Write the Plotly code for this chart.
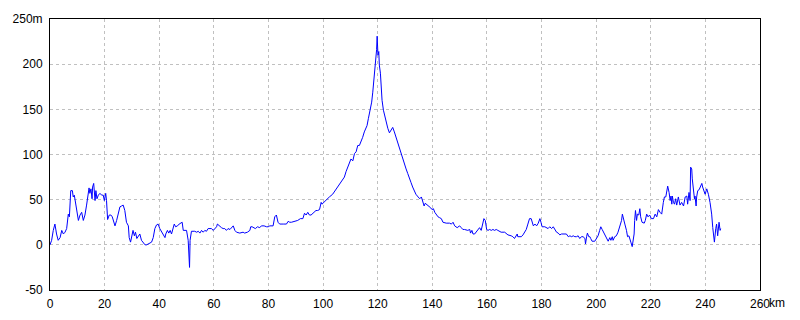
import plotly.graph_objects as go

dist_km = [
    0.0, 0.6, 1.2, 1.8, 2.4, 3.0, 3.7, 4.3, 4.9, 5.5, 6.1, 6.7, 7.1, 7.6, 8.2, 8.5, 8.9, 9.4,
    10.0, 10.4, 11.0, 11.6, 12.2, 12.8, 13.4, 13.8, 14.3, 14.6, 15.0, 15.4, 15.6, 16.0, 16.5,
    16.8, 17.2, 17.7, 18.3, 18.9, 19.5, 19.9, 20.4, 20.7, 21.1, 21.7, 22.3, 22.8, 23.4, 23.8,
    24.4, 25.0, 25.6, 26.2, 26.8, 27.4, 28.0, 28.7, 29.0, 29.5, 29.9, 30.4, 30.9, 31.3, 31.8,
    32.3, 32.9, 33.5, 34.1, 34.8, 35.4, 36.0, 36.6, 37.2, 37.8, 38.4, 39.0, 39.6, 40.2, 40.9,
    41.5, 42.1, 42.4, 43.0, 43.5, 44.0, 44.5, 45.1, 45.5, 46.0, 46.7, 47.3, 47.9, 48.4, 48.8,
    50.0, 50.6, 50.9, 51.1, 51.3, 51.8, 53.0, 53.7, 54.3, 54.9, 55.5, 56.1, 56.7, 57.3, 57.9,
    58.5, 59.1, 59.8, 60.4, 61.0, 61.3, 62.2, 62.8, 63.4, 64.0, 64.6, 65.2, 65.9, 66.5, 67.1,
    67.7, 68.3, 69.5, 70.7, 71.3, 72.3, 73.2, 73.5, 74.0, 74.8, 75.2, 76.0, 76.8, 77.4, 78.4,
    79.3, 79.9, 80.5, 81.7, 82.3, 82.9, 83.5, 84.1, 85.4, 86.6, 87.2, 87.8, 88.4, 89.8, 90.7,
    91.7, 92.6, 93.2, 93.8, 94.4, 95.0, 95.6, 96.2, 96.8, 97.4, 98.0, 98.7, 99.0, 99.3, 99.6,
    100.2, 101.1, 102.3, 103.5, 104.8, 105.4, 106.0, 106.6, 107.2, 107.8, 108.4, 109.0, 109.6,
    110.2, 110.9, 111.5, 112.1, 112.7, 113.3, 113.9, 114.5, 115.1, 115.7, 116.1, 116.6, 117.0,
    117.3, 117.8, 118.2, 118.5, 119.0, 119.4, 119.6, 119.8, 120.0, 120.1, 120.4, 120.6, 121.0,
    121.2, 121.6, 122.1, 122.4, 122.8, 123.3, 123.7, 124.3, 124.9, 125.5, 126.1, 126.7, 127.3,
    127.9, 128.5, 129.1, 129.8, 130.4, 131.0, 131.6, 132.2, 132.8, 133.3, 134.0, 134.8, 135.4,
    136.0, 136.5, 137.0, 137.4, 138.2, 138.8, 139.4, 139.9, 140.4, 140.9, 141.5, 142.1, 142.7,
    143.3, 143.9, 145.1, 146.3, 147.0, 147.6, 148.2, 149.1, 150.0, 150.6, 151.2, 151.8, 153.0,
    153.7, 154.0, 154.5, 154.9, 155.5, 156.1, 156.7, 157.3, 157.9, 158.5, 158.9, 159.4, 159.9,
    160.4, 161.0, 161.6, 162.2, 162.8, 163.4, 164.0, 165.2, 166.5, 167.1, 167.7, 168.9, 169.5,
    170.1, 170.7, 171.1, 171.3, 172.6, 173.2, 173.8, 174.4, 175.0, 175.6, 176.2, 176.7, 177.0,
    177.6, 178.2, 178.8, 179.4, 179.8, 180.2, 181.2, 181.8, 182.4, 183.0, 183.7, 184.3, 184.9,
    185.5, 186.1, 186.7, 187.3, 188.5, 189.1, 189.8, 190.4, 191.0, 191.6, 192.2, 192.8, 193.4,
    194.0, 194.6, 195.2, 195.9, 196.1, 196.5, 196.8, 197.3, 197.7, 198.0, 198.5, 199.5, 200.1,
    200.7, 201.3, 201.7, 202.2, 202.7, 203.2, 203.8, 204.4, 205.0, 205.4, 205.9, 206.2, 206.8,
    207.4, 208.0, 208.7, 209.3, 209.6, 210.1, 210.5, 211.1, 211.5, 212.0, 212.3, 212.7, 213.2,
    213.5, 213.9, 214.1, 214.4, 214.8, 215.1, 215.6, 216.0, 216.3, 216.8, 217.6, 218.0, 218.5,
    219.0, 219.6, 220.2, 221.0, 221.6, 222.2, 222.8, 223.4, 224.0, 224.6, 225.0, 225.5, 225.9,
    226.2, 226.7, 227.1, 227.4, 227.7, 227.9, 228.3, 228.7, 229.1, 229.5, 230.1, 230.7, 231.3,
    232.0, 232.6, 233.2, 233.5, 234.0, 234.4, 234.6, 235.0, 235.2, 235.6, 236.0, 236.2, 236.6,
    236.8, 237.2, 237.7, 238.2, 238.7, 239.0, 239.4, 239.9, 240.5, 241.1, 241.7, 242.3, 242.7,
    243.0, 243.3, 243.8, 244.1, 244.5, 245.0, 245.4, 245.6,
]

elev_m = [
    0, 5, 16, 23, 12, 5, 8, 16, 12, 14, 18, 34, 31, 60, 60, 53, 55, 44,
    34, 27, 33, 36, 27, 33, 44, 55, 63, 57, 62, 51, 64, 68, 49,
    60, 51, 55, 57, 55, 55, 49, 57, 49, 28, 33, 33, 31, 23, 21,
    27, 34, 42, 43, 44, 38, 25, 21, 8, 3, 10, 16, 10, 14, 7,
    10, 12, 5, 3, 0, 0, 1, 2, 3, 8, 18, 22, 23, 18, 14,
    11, 8, 12, 16, 13, 16, 12, 18, 23, 20, 21, 23, 24, 25, 16,
    16, 5, -17, -25, 5, 15, 15, 14, 15, 13, 16, 14, 16, 15, 18,
    18, 18, 16, 18, 20, 23, 20, 19, 18, 18, 16, 18, 17, 19, 21,
    16, 14, 13, 14, 13, 14, 16, 20, 20, 19, 18, 20, 19, 21, 21,
    20, 20, 21, 21, 31, 33, 25, 23, 23, 23, 26, 25, 25, 26, 27,
    29, 29, 35, 33, 36, 33, 33, 35, 36, 38, 38, 39, 43, 47, 45,
    47, 50, 53, 56, 62, 64, 67, 69, 73, 75, 81, 85, 90,
    95, 93, 101, 103, 110, 110, 114, 119, 125, 130, 132, 140, 145,
    152, 158, 169, 179, 188, 201, 216, 231, 223, 210, 214, 199, 190,
    177, 160, 149, 145, 140, 134, 129, 124, 127, 130, 125, 119, 114,
    108, 103, 95, 90, 84, 79, 75, 69, 64, 60, 56, 53, 51,
    53, 49, 43, 46, 44, 43, 41, 39, 40, 36, 33, 31, 30,
    29, 25, 24, 24, 23, 25, 21, 19, 21, 19, 17, 17, 16,
    17, 13, 16, 12, 12, 14, 17, 19, 16, 23, 29, 27, 17,
    16, 17, 16, 17, 16, 17, 16, 14, 14, 12, 11, 10, 9,
    7, 10, 12, 9, 9, 11, 14, 17, 23, 29, 29, 23, 21,
    23, 21, 24, 29, 25, 20, 20, 19, 18, 20, 18, 20, 16,
    14, 13, 11, 12, 12, 12, 9, 10, 9, 10, 9, 9, 10,
    7, 9, 9, 7, 1, 9, 13, 9, 9, 7, 4, 4, 7,
    10, 16, 20, 17, 14, 11, 9, 4, 8, 5, 9, 5, 9,
    10, 14, 21, 27, 34, 29, 23, 16, 9, 10, 6, 3, -2,
    3, 12, 27, 38, 27, 34, 33, 40, 31, 25, 24, 27, 34,
    31, 33, 29, 29, 34, 31, 39, 36, 34, 47, 53, 53, 60,
    65, 58, 49, 54, 45, 54, 47, 45, 51, 44, 53, 44, 47,
    43, 53, 54, 45, 58, 49, 86, 84, 73, 60, 51, 54, 43,
    53, 60, 61, 64, 68, 64, 60, 56, 62, 56, 47, 34, 19,
    10, 3, 18, 23, 10, 25, 16, 18,
]

x_tickvals = [0, 20, 40, 60, 80, 100, 120, 140, 160, 180, 200, 220, 240, 260]
x_ticktext = ["0", "20", "40", "60", "80", "100", "120", "140", "160", "180", "200", "220", "240", "260"]
y_tickvals = [-50, 0, 50, 100, 150, 200, 250]
y_ticktext = ["-50", "0", "50", "100", "150", "200", "250m"]

FONT = "Liberation Sans Narrow, Liberation Sans, Arial, sans-serif"

fig = go.Figure()
fig.add_trace(go.Scatter(
    x=dist_km, y=elev_m, mode="lines",
    line=dict(color="#0000ff", width=1),
    hoverinfo="skip", showlegend=False,
))

axis_common = dict(
    showline=True, linecolor="#000000", linewidth=1, mirror=True,
    showgrid=True, gridcolor="#c0c0c0", gridwidth=1, griddash="3px,3px",
    zeroline=False, ticks="", tickfont=dict(family=FONT, size=12, color="#000000"),
    fixedrange=True, automargin=False,
)

fig.update_xaxes(range=[0, 260], tickmode="array", tickvals=x_tickvals,
                 ticktext=x_ticktext, ticklabelstandoff=3, **axis_common)
fig.update_yaxes(range=[-50, 250], tickmode="array", tickvals=y_tickvals,
                 ticktext=y_ticktext, ticklabelstandoff=4, **axis_common)

fig.add_annotation(
    text="km", xref="x", x=260, yref="paper", y=0,
    xanchor="left", yanchor="top", xshift=7, yshift=-4,
    showarrow=False, font=dict(family=FONT, size=12, color="#000000"),
)

fig.update_layout(
    width=800, height=320,
    margin=dict(l=50, r=40, t=19, b=30, pad=0, autoexpand=False),
    paper_bgcolor="#ffffff", plot_bgcolor="#ffffff",
    font=dict(family=FONT, size=12, color="#000000"),
)

fig.write_html("out.html", include_plotlyjs=True, config={"displayModeBar": False})
